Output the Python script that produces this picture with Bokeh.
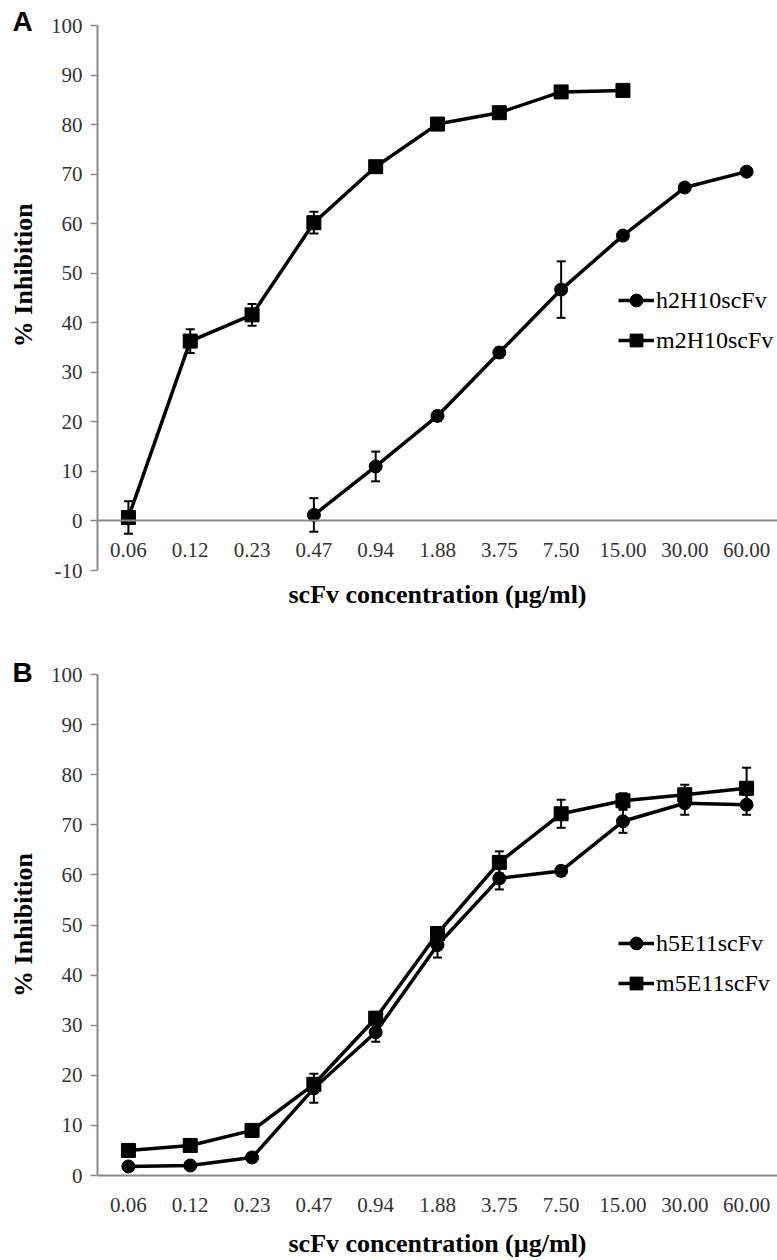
from bokeh.plotting import figure
from bokeh.models import (FactorRange, Range1d, FixedTicker, Whisker, TeeHead,
                          ColumnDataSource, Legend, LegendItem, Title, LinearAxis)
from bokeh.layouts import column
from bokeh.embed import file_html
from bokeh.resources import INLINE

# ---------------- data ----------------
concentrations = ["0.06", "0.12", "0.23", "0.47", "0.94", "1.88",
                  "3.75", "7.50", "15.00", "30.00", "60.00"]

# Panel A
a_h_label = "h2H10scFv"
a_h_conc = ["0.47", "0.94", "1.88", "3.75", "7.50", "15.00", "30.00", "60.00"]
a_h_mean = [1.2, 11.0, 21.2, 34.0, 46.7, 57.6, 67.3, 70.5]
a_h_err = [3.4, 3.0, 1.0, 1.0, 5.7, 0.8, 0.6, 0.6]

a_m_label = "m2H10scFv"
a_m_conc = ["0.06", "0.12", "0.23", "0.47", "0.94", "1.88", "3.75", "7.50", "15.00"]
a_m_mean = [0.7, 36.3, 41.6, 60.2, 71.5, 80.1, 82.4, 86.6, 86.9]
a_m_err = [3.3, 2.4, 2.2, 2.2, 0.8, 0.8, 0.8, 0.8, 0.8]

# Panel B
b_h_label = "h5E11scFv"
b_h_conc = concentrations
b_h_mean = [1.8, 2.0, 3.6, 17.4, 28.6, 46.0, 59.3, 60.8, 70.7, 74.3, 74.0]
b_h_err = [0.8, 0.6, 0.8, 2.9, 1.9, 2.5, 2.2, 1.0, 2.3, 2.3, 2.0]

b_m_label = "m5E11scFv"
b_m_conc = concentrations
b_m_mean = [5.0, 6.0, 9.0, 18.2, 31.4, 48.3, 62.5, 72.2, 74.8, 76.0, 77.3]
b_m_err = [1.0, 1.0, 1.2, 1.0, 1.2, 1.0, 2.2, 2.8, 1.5, 2.0, 4.1]

a_yticks = [-10, 0, 10, 20, 30, 40, 50, 60, 70, 80, 90, 100]
b_yticks = [0, 10, 20, 30, 40, 50, 60, 70, 80, 90, 100]

y_title = "% Inhibition"
x_title = "scFv concentration (µg/ml)"

SERIF = "Liberation Serif"
SANS = "Liberation Sans"
AXIS_GRAY = "#8a8a8a"
TICK_TEXT = "#333333"
NBSP = "\u00a0"


def style_title(ax, standoff):
    ax.axis_label = x_title
    ax.axis_label_text_font = SERIF
    ax.axis_label_text_font_size = "26px"
    ax.axis_label_text_font_style = "bold"
    ax.axis_label_text_color = "black"
    ax.axis_label_standoff = standoff


def add_series(p, conc, mean, err, marker, size):
    src = ColumnDataSource(dict(
        x=conc, y=mean,
        upper=[m + e for m, e in zip(mean, err)],
        lower=[m - e for m, e in zip(mean, err)]))
    ln = p.line("x", "y", source=src, line_color="black", line_width=3.5)
    w = Whisker(source=src, base="x", upper="upper", lower="lower",
                line_color="black", line_width=2,
                upper_head=TeeHead(size=9, line_color="black", line_width=2),
                lower_head=TeeHead(size=9, line_color="black", line_width=2))
    p.add_layout(w)
    sc = p.scatter("x", "y", source=src, marker=marker, size=size,
                   fill_color="black", line_color="black")
    return ln, sc


def make_panel(letter, ylo, yticks, series, height, btop, bbot,
               legend_y, fixed_axis, xtitle_standoff, ytitle_shift, letter_standoff):
    p = figure(width=777, height=height,
               x_range=FactorRange(*concentrations, range_padding=0),
               y_range=Range1d(ylo, 100),
               output_backend="svg", toolbar_location=None,
               min_border_left=97, min_border_right=0,
               min_border_top=btop, min_border_bottom=bbot)
    p.outline_line_color = None
    p.grid.visible = False
    p.background_fill_color = "white"

    xa = p.xaxis[0]
    xa.axis_line_color = AXIS_GRAY
    xa.axis_line_width = 2
    xa.major_tick_line_color = None
    xa.minor_tick_line_color = None
    xa.major_label_text_font = SERIF
    xa.major_label_text_font_size = "21px"
    xa.major_label_text_color = TICK_TEXT
    xa.major_label_standoff = 16
    if fixed_axis:
        xa.fixed_location = 0
        # title-only axis below the frame (no ticks)
        ta = LinearAxis(ticker=FixedTicker(ticks=[]), axis_line_color=None,
                        major_tick_line_color=None, minor_tick_line_color=None,
                        major_label_standoff=0)
        style_title(ta, xtitle_standoff)
        p.add_layout(ta, "below")
    else:
        style_title(xa, xtitle_standoff)

    ya = p.yaxis[0]
    ya.ticker = FixedTicker(ticks=yticks)
    ya.major_label_overrides = {t: str(t) for t in yticks}
    ya.axis_line_color = AXIS_GRAY
    ya.axis_line_width = 2
    ya.major_tick_line_color = AXIS_GRAY
    ya.major_tick_line_width = 1.5
    ya.major_tick_out = 7
    ya.major_tick_in = 0
    ya.minor_tick_line_color = None
    ya.major_label_text_font = SERIF
    ya.major_label_text_font_size = "21px"
    ya.major_label_text_color = TICK_TEXT
    ya.major_label_standoff = 8
    ya.axis_label = NBSP * ytitle_shift + y_title
    ya.axis_label_text_font = SERIF
    ya.axis_label_text_font_size = "26px"
    ya.axis_label_text_font_style = "bold"
    ya.axis_label_text_color = "black"
    ya.axis_label_standoff = 10

    items = []
    for label, conc, mean, err, marker, size in series:
        ln, sc = add_series(p, conc, mean, err, marker, size)
        items.append(LegendItem(label=label, renderers=[ln, sc]))

    leg = Legend(items=items, location=(521, legend_y),
                 glyph_width=36, glyph_height=32, label_height=32,
                 spacing=8, padding=0, margin=0, label_standoff=2,
                 border_line_color=None, background_fill_alpha=0,
                 label_text_font=SERIF, label_text_font_size="24px",
                 label_text_color="black")
    p.add_layout(leg)

    p.add_layout(Title(text=letter, align="left", offset=-85,
                       standoff=letter_standoff,
                       text_font=SANS, text_font_size="28px",
                       text_font_style="bold", text_color="black"), "above")
    return p


pa = make_panel("A", -10, a_yticks,
                [(a_h_label, a_h_conc, a_h_mean, a_h_err, "circle", 13),
                 (a_m_label, a_m_conc, a_m_mean, a_m_err, "square", 14)],
                height=615, btop=25, bbot=45, legend_y=214, fixed_axis=True,
                xtitle_standoff=9, ytitle_shift=7, letter_standoff=-23)

pb = make_panel("B", 0, b_yticks,
                [(b_h_label, b_h_conc, b_h_mean, b_h_err, "circle", 13),
                 (b_m_label, b_m_conc, b_m_mean, b_m_err, "square", 14)],
                height=645, btop=59, bbot=80, legend_y=176, fixed_axis=False,
                xtitle_standoff=14, ytitle_shift=0, letter_standoff=-27)

layout = column(pa, pb, spacing=0)
open("out.html", "w").write(file_html(layout, INLINE))
